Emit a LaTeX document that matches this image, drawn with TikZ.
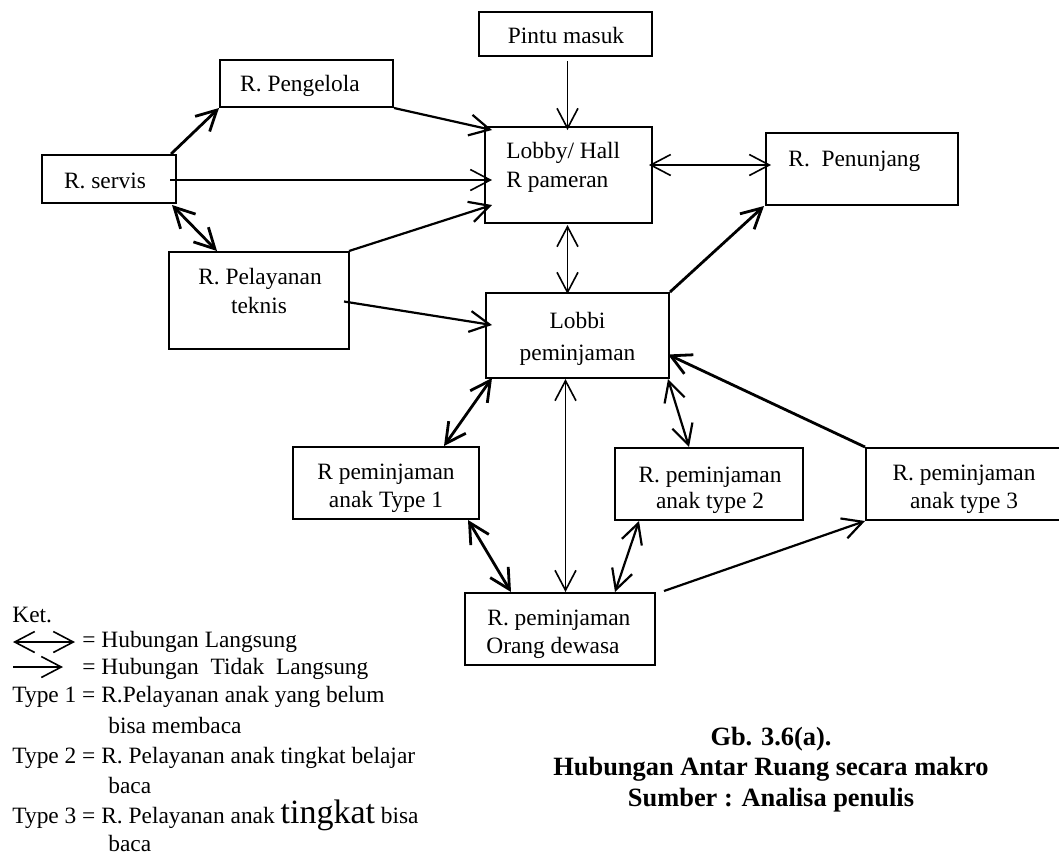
\documentclass[tikz,border=0pt]{standalone}
\usepackage{fontspec}
\setmainfont{Liberation Serif}
\usetikzlibrary{arrows.meta,calc,fit}

\begin{document}
\begin{tikzpicture}[
  x=0.5pt, y=-0.5pt,
  >={Straight Barb[length=10pt,width=10.5pt]},
  room/.style={draw, line width=1pt, inner sep=0pt},
  txt/.style={inner sep=0pt, anchor=base, font=\fontsize{11.7}{14}\selectfont},
  txtl/.style={txt, anchor=base west},
  captxt/.style={inner sep=0pt, anchor=base, font=\fontsize{13.2}{16}\selectfont\bfseries},
  lnthin/.style={line width=0.8pt},
  lnmid/.style={line width=1.1pt},
  lnheavy/.style={line width=1.4pt}
]
\useasboundingbox (0,0) rectangle (1059,858);

% rooms
\node[room, fit={(479,12) (652,56)}]   (pintu)  {};
\node[room, fit={(220,60) (393,107)}]  (peng)   {};
\node[room, fit={(42,155) (176,203)}]  (servis) {};
\node[room, fit={(485,127) (652,223)}] (lobby)  {};
\node[room, fit={(766,133) (958,205)}] (pen)    {};
\node[room, fit={(169,252) (349,349)}] (pel)    {};
\node[room, fit={(486,293) (669,378)}] (lobbi)  {};
\node[room, fit={(293,447) (479,519)}] (t1)     {};
\node[room, fit={(615,448) (803,520)}] (t2)     {};
\node[room, fit={(866,448) (1075,520)}] (t3)    {};
\node[room, fit={(465,593) (655,665)}] (dewasa) {};

% room names
\node[txt]  (pintuA)  at (566,43.5) {Pintu masuk};
\node[txt]  (pengA)   at (300,91)   {R. Pengelola};
\node[txt]  (servisA) at (105,188)  {R. servis};
\node[txtl] (lobbyA)  at (506,158.5){Lobby/ Hall};
\node[txtl] (lobbyB)  at (506,187)  {R pameran};
\node[txtl] (penA)    at (788,166)  {R.\ \ Penunjang};
\node[txt]  (pelA)    at (260,284)  {R. Pelayanan};
\node[txt]  (pelB)    at (259,313)  {teknis};
\node[txt]  (lobbiA)  at (577.5,328){Lobbi};
\node[txt]  (lobbiB)  at (577.5,360){peminjaman};
\node[txt]  (t1A)     at (386,479)  {R peminjaman};
\node[txt]  (t1B)     at (386,507)  {anak Type 1};
\node[txt]  (t2A)     at (710,482)  {R. peminjaman};
\node[txt]  (t2B)     at (710,508)  {anak type 2};
\node[txt]  (t3A)     at (964,480)  {R. peminjaman};
\node[txt]  (t3B)     at (964,508)  {anak type 3};
\node[txtl] (dewA)    at (487,625)  {R. peminjaman};
\node[txtl] (dewB)    at (486,653)  {Orang dewasa};

% relations
\draw[lnthin,->]  ($(pintu.south)+(2,4)$) -- ($(lobby.north)+(-1,4)$);
\draw[lnheavy,->] ($(servis.north east)+(-6,0)$) -- (peng.south west);
\draw[lnmid,->]   (peng.south east) -- ($(lobby.north west)+(8,4)$);
\draw[lnthin,->]  ($(servis.east)+(-7,1)$) -- ($(lobby.west)+(8,5)$);
\draw[lnheavy,<->] ($(servis.south east)+(-5,1)$) -- ($(pel.north west)+(49,0)$);
\draw[lnmid,->]   ($(pel.north east)+(-1,0)$) -- ($(lobby.south west)+(8,-19)$);
\draw[lnmid,->]   ($(pel.east)+(-6,1)$) -- ($(lobbi.west)+(7,-10.5)$);
\draw[lnthin,<->] ($(lobby.east)+(-4,-10)$) -- ($(pen.west)+(6,-4)$);
\draw[lnthin,<->] ($(lobby.south)+(-1,1)$) -- ($(lobbi.north)+(-10,2)$);
\draw[lnheavy,->] (lobbi.north east) -- ($(pen.south west)+(-1,0)$);
\draw[lnheavy,<->] ($(lobbi.south west)+(7,-1)$) -- ($(t1.north east)+(-36,0)$);
\draw[lnthin,<->] ($(lobbi.south)+(-12,0)$) -- ($(dewasa.north)+(5.5,0)$);
\draw[lnmid,<->]  ($(lobbi.south east)+(-2,0)$) -- ($(t2.north west)+(75,0)$);
\draw[lnheavy,->] (t3.north west) -- ($(lobbi.east)+(-2,19)$);
\draw[lnheavy,<->] ($(t1.south east)+(-12,0)$) -- ($(dewasa.north west)+(47,0)$);
\draw[lnmid,<->]  ($(t2.south west)+(25,0)$) -- ($(dewasa.north east)+(-41,0)$);
\draw[lnmid,->]   ($(dewasa.north east)+(8,-1)$) -- (t3.south west);

% key
\coordinate (kda) at (13,642);
\coordinate (kdb) at (75,642);
\coordinate (ksa) at (13,667);
\coordinate (ksb) at (63,667);
\node[txtl] (ket) at (12,622) {Ket.};
\draw[lnthin,<->] (kda) -- (kdb);
\draw[lnthin,->]  (ksa) -- (ksb);
\node[txtl] (kd)  at (82,647) {= Hubungan Langsung};
\node[txtl] (ks)  at (82,674) {= Hubungan\ \ Tidak\ \ Langsung};
\node[txtl] (ty1) at (12,702) {Type 1 = R.Pelayanan anak yang belum};
\node[txtl] (ty1b) at (108,733) {bisa membaca};
\node[txtl] (ty2) at (12,763) {Type 2 = R. Pelayanan anak tingkat belajar};
\node[txtl] (ty2b) at (108,793) {baca};
\node[txtl] (ty3) at (12,823) {Type 3 = R. Pelayanan anak {\fontsize{17}{20}\selectfont tingkat} bisa};
\node[txtl] (ty3b) at (108,851) {baca};

% caption
\node[captxt] (capA) at (771,745) {Gb. 3.6(a).};
\node[captxt] (capB) at (771,775) {Hubungan Antar Ruang secara makro};
\node[captxt] (capC) at (771,806) {Sumber : Analisa penulis};
\end{tikzpicture}
\end{document}
